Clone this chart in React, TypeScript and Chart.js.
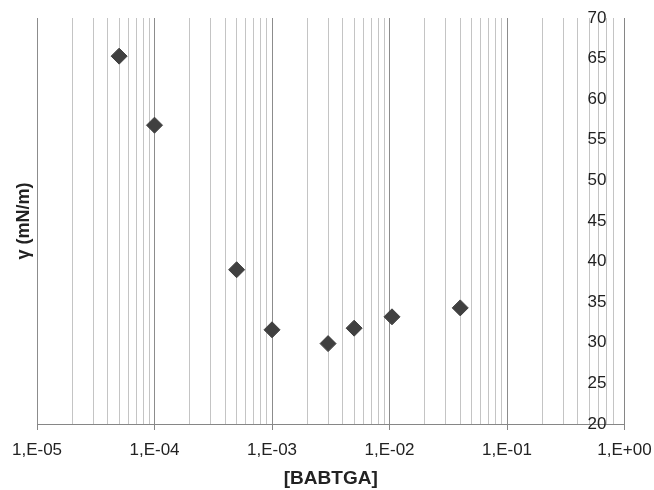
import React, { useEffect, useRef } from 'react';
import { Chart, registerables } from 'chart.js';

Chart.register(...registerables);

// Data
const concentrations = [5e-5, 1e-4, 5e-4, 1e-3, 3e-3, 5e-3, 1.05e-2, 4e-2];
const tensions = [65.3, 56.8, 39.0, 31.6, 29.9, 31.8, 33.2, 34.3];

// Axis definitions
const xMin = 1e-5;
const xMax = 1;
const decadeExponents = [-5, -4, -3, -2, -1];
const mantissas = [1, 2, 3, 4, 5, 6, 7, 8, 9];
const yMin = 20;
const yMax = 70;
const yStep = 5;
const xTitle = '[BABTGA]';
const yTitle = 'γ (mN/m)';

const gridValues: number[] = [];
decadeExponents.forEach((e) => {
  mantissas.forEach((m) => {
    const v = Number((m * Math.pow(10, e)).toPrecision(6));
    if (!(e === -1 && m === 9)) gridValues.push(v);
  });
});
gridValues.push(xMax);

const isMajor = (v: number) => {
  const l = Math.log10(v);
  return Math.abs(l - Math.round(l)) < 1e-9;
};

const fmtLabel = (v: number) => {
  const e = Math.round(Math.log10(v));
  const a = Math.abs(e);
  return '1,E' + (e < 0 ? '-' : '+') + (a < 10 ? '0' + a : String(a));
};

const FONT = "'Liberation Sans', Arial, sans-serif";

export default function App() {
  const ref = useRef<HTMLCanvasElement | null>(null);

  useEffect(() => {
    if (!ref.current) return;
    const chart = new Chart(ref.current, {
      type: 'scatter',
      data: {
        datasets: [
          {
            data: concentrations.map((x, i) => ({ x, y: tensions[i] })),
            pointStyle: 'rectRot',
            pointRadius: 8,
            pointHoverRadius: 8,
            backgroundColor: '#404040',
            borderColor: '#404040',
            borderWidth: 1,
            showLine: false,
          },
        ],
      },
      options: {
        responsive: false,
        animation: false,
        layout: { padding: { left: 0, right: 29.5, top: 18, bottom: 0 } },
        plugins: {
          legend: { display: false },
          tooltip: { enabled: false },
        },
        scales: {
          x: {
            type: 'logarithmic',
            position: 'bottom',
            min: xMin,
            max: xMax,
            afterBuildTicks: (scale: any) => {
              scale.ticks = gridValues.map((v) => ({ value: v, major: isMajor(v) }));
            },
            afterFit: (scale: any) => {
              scale.height = 66;
              scale.paddingLeft = 0;
              scale.paddingRight = 0;
            },
            grid: {
              display: true,
              drawOnChartArea: true,
              drawTicks: true,
              tickLength: 6,
              lineWidth: 1,
              color: (ctx: any) => (ctx.tick && isMajor(ctx.tick.value) ? '#8c8c8c' : '#c4c4c4'),
              tickColor: (ctx: any) => (ctx.tick && isMajor(ctx.tick.value) ? '#868686' : 'rgba(0,0,0,0)'),
            },
            border: { display: true, color: '#868686', width: 1 },
            ticks: {
              autoSkip: false,
              maxRotation: 0,
              minRotation: 0,
              padding: 10,
              color: '#222222',
              font: { family: FONT, size: 17 },
              callback: (value: any) => (isMajor(Number(value)) ? fmtLabel(Number(value)) : ''),
            },
            title: {
              display: true,
              text: xTitle,
              color: '#222222',
              padding: { top: 0, bottom: 0 },
              font: { family: FONT, size: 19, weight: 'bold' },
            },
          },
          y: {
            type: 'linear',
            position: 'right',
            min: yMin,
            max: yMax,
            afterFit: (scale: any) => {
              scale.width = 0;
              scale.paddingTop = 0;
              scale.paddingBottom = 0;
            },
            grid: { display: false, drawTicks: false },
            border: { display: true, color: '#868686', width: 1 },
            ticks: {
              stepSize: yStep,
              mirror: true,
              padding: -18,
              color: '#222222',
              font: { family: FONT, size: 17 },
            },
          },
          yTitleAxis: {
            type: 'linear',
            position: 'left',
            min: 0,
            max: 1,
            afterFit: (scale: any) => {
              scale.width = 37;
            },
            grid: { display: false, drawTicks: false },
            border: { display: false },
            ticks: { display: false },
            title: {
              display: true,
              text: yTitle,
              color: '#222222',
              padding: { top: 13, bottom: 0 },
              font: { family: FONT, size: 18, weight: 'bold' },
            },
          },
        },
      } as any,
    });
    return () => chart.destroy();
  }, []);

  return (
    <div style={{ position: 'fixed', left: 0, top: 0, width: 654, height: 490, background: '#fff' }}>
      <canvas ref={ref} width={654} height={490} style={{ width: 654, height: 490, display: 'block' }} />
    </div>
  );
}
